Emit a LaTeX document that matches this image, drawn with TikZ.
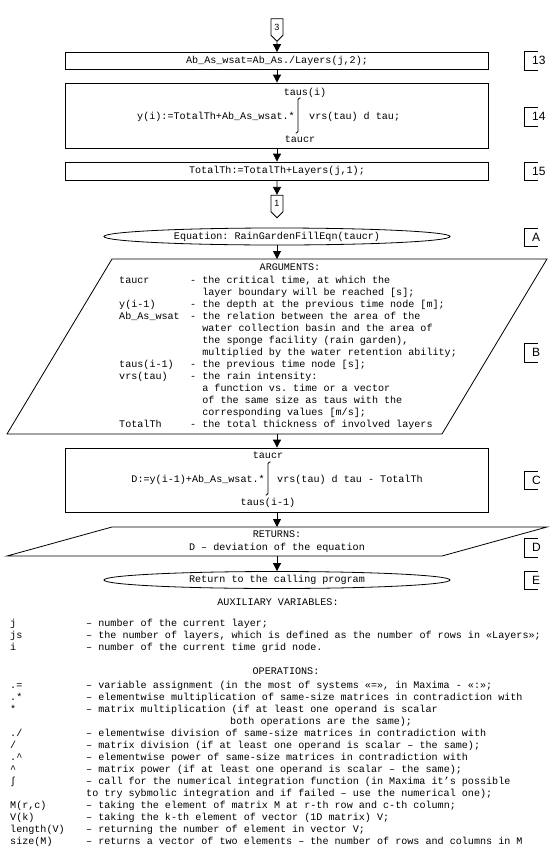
\documentclass[tikz,border=0pt]{standalone}
\usepackage{fontspec}
\setmainfont{Liberation Sans}
\setsansfont{Liberation Sans}
\setmonofont{Liberation Mono}
\usetikzlibrary{shapes.geometric,shapes.symbols,arrows.meta,positioning,calc}

\begin{document}
\begin{tikzpicture}[x=1pt, y=-1pt,
    mono/.style={font=\ttfamily\fontsize{10.1}{12}\selectfont, inner sep=0pt, text height=7pt, text depth=2pt},
    procbox/.style={rectangle, draw, line width=0.8pt, minimum width=423pt, inner sep=0pt},
    term/.style={ellipse, draw, line width=0.8pt, minimum width=346pt, minimum height=17pt, inner sep=0pt, mono},
    offpage/.style={signal, signal to=south, draw, line width=0.8pt, minimum width=12pt, minimum height=19pt, inner sep=0pt, font=\sffamily\fontsize{9}{9}\selectfont},
    arr/.style={-{Triangle[width=8pt,length=8pt]}, line width=0.8pt},
    tag/.style={font=\sffamily\fontsize{12}{12}\selectfont, anchor=west, inner sep=0pt}
]
\useasboundingbox (0,0) rectangle (550,847);

% === upper part: end of the layer loop ===
\node[offpage] (con3) at (277,27) {3};
\node[procbox, minimum height=17pt] (box13) at (277,61) {};
\node[mono] (box13-text) at (277,61) {Ab\_As\_wsat=Ab\_As./Layers(j,2);};
\node[procbox, minimum height=65pt] (box14) at (277,115.5) {};
\node[procbox, minimum height=18pt] (box15) at (277,171) {};
\node[mono] (box15-text) at (277,171) {TotalTh:=TotalTh+Layers(j,1);};
\node[offpage] (con1) at (277,203.5) {1};

% integral of block 14
\node[mono, anchor=east] (y-lhs) at (295,117) {y(i):=TotalTh+Ab\_As\_wsat.*};
\node[mono, anchor=west] (y-rhs) at (309,117) {vrs(tau) d tau;};
\node[mono] (y-upper) at (305,93) {taus(i)};
\node[mono] (y-lower) at (300,140) {taucr};
\draw[line width=0.8pt, rounded corners=1.5pt] (295.5,133) -- (298,133) -- (298,98) -- (300.5,98);

\draw[arr] (con3) -- (box13);
\draw[arr] (box13) -- (box14);
\draw[arr] (box14) -- (box15);
\draw[arr] (box15) -- (con1);

% === equation function ===
\node[term] (eqA) at (277,236.5) {Equation: RainGardenFillEqn(taucr)};

% arguments (parallelogram)
\coordinate (argsTop) at (277,259);
\coordinate (argsBot) at (277,434);
\draw[line width=0.8pt] (112,259) -- (547,259) -- (442,434) -- (7,434) -- cycle;
\node[mono] (args-title) at (290,268) {ARGUMENTS:};
\foreach \y/\lab/\txt in {
    281/{taucr}/{- the critical time, at which the},
    293/{}/{\phantom{- }layer boundary will be reached [s];},
    305/{y(i-1)}/{- the depth at the previous time node [m];},
    317/{Ab\_As\_wsat}/{- the relation between the area of the},
    329/{}/{\phantom{- }water collection basin and the area of},
    341/{}/{\phantom{- }the sponge facility (rain garden),},
    353/{}/{\phantom{- }multiplied by the water retention ability;},
    365/{taus(i-1)}/{- the previous time node [s];},
    377/{vrs(tau)}/{- the rain intensity:},
    389/{}/{\phantom{- }a function vs. time or a vector},
    401/{}/{\phantom{- }of the same size as taus with the},
    413/{}/{\phantom{- }corresponding values [m/s];},
    425/{TotalTh}/{- the total thickness of involved layers}} {
    \node[mono, anchor=west] (arg-lab-\y) at (119,\y) {\lab};
    \node[mono, anchor=west] (arg-txt-\y) at (190,\y) {\txt};
}

% deviation block C
\node[procbox, minimum height=64pt] (boxC) at (277,480) {};
\node[mono, anchor=east] (d-lhs) at (265,480) {D:=y(i-1)+Ab\_As\_wsat.*};
\node[mono, anchor=west] (d-rhs) at (277,480) {vrs(tau) d tau - TotalTh};
\node[mono] (d-upper) at (268,456) {taucr};
\node[mono] (d-lower) at (268,503) {taus(i-1)};
\draw[line width=0.8pt, rounded corners=1.5pt] (265.5,495) -- (268,495) -- (268,462) -- (270.5,462);

% returns (parallelogram)
\coordinate (retTop) at (277,527);
\coordinate (retBot) at (277,556);
\draw[line width=0.8pt] (112,527) -- (547,527) -- (442,556) -- (7,556) -- cycle;
\node[mono] (ret-title) at (277,535) {RETURNS:};
\node[mono] (ret-text) at (277,548) {D – deviation of the equation};

\node[term] (eqE) at (277,580) {Return to the calling program};

\draw[arr] (eqA) -- (argsTop);
\draw[arr] (argsBot) -- (boxC);
\draw[arr] (boxC) -- (retTop);
\draw[arr] (retBot) -- (eqE);

% block tags on the right
\foreach \lab/\top/\bot in {13/51/70, 14/107/126, 15/162/180, A/228/246, B/343/362, C/471/489, D/538/557, E/571/589} {
    \draw[line width=0.6pt] (538,\top) -- (524,\top) -- (524,\bot) -- (538,\bot);
    \node[tag] (tag-\lab) at (532,{(\top+\bot)/2}) {\lab};
}

% === legend ===
\node[mono] (aux-title) at (278,603) {AUXILIARY VARIABLES:};
\foreach \y/\lab/\txt in {
    624/{j}/{– number of the current layer;},
    636/{js}/{– the number of layers, which is defined as the number of rows in «Layers»;},
    648/{i}/{– number of the current time grid node.}} {
    \node[mono, anchor=west] (aux-lab-\y) at (10,\y) {\lab};
    \node[mono, anchor=west] (aux-txt-\y) at (86,\y) {\txt};
}

\node[mono] (op-title) at (286,672) {OPERATIONS:};
\foreach \y/\lab/\txt in {
    686/{.=}/{– variable assignment (in the most of systems «=», in Maxima - «:»;},
    698/{.*}/{– elementwise multiplication of same-size matrices in contradiction with},
    710/{*}/{– matrix multiplication (if at least one operand is scalar},
    734/{./}/{– elementwise division of same-size matrices in contradiction with},
    746/{/}/{– matrix division (if at least one operand is scalar – the same);},
    758/{.\textasciicircum}/{– elementwise power of same-size matrices in contradiction with},
    770/{\textasciicircum}/{– matrix power (if at least one operand is scalar – the same);},
    782/{∫}/{– call for the numerical integration function (in Maxima it’s possible},
    794/{}/{to try sybmolic integration and if failed – use the numerical one);},
    806/{M(r,c)}/{– taking the element of matrix M at r-th row and c-th column;},
    818/{V(k)}/{– taking the k-th element of vector (1D matrix) V;},
    830/{length(V)}/{– returning the number of element in vector V;},
    842/{size(M)}/{– returns a vector of two elements – the number of rows and columns in M}} {
    \node[mono, anchor=west] (op-lab-\y) at (10,\y) {\lab};
    \node[mono, anchor=west] (op-txt-\y) at (86,\y) {\txt};
}
\node[mono, anchor=west] (op-txt-722) at (230,722) {both operations are the same);};

\end{tikzpicture}
\end{document}
